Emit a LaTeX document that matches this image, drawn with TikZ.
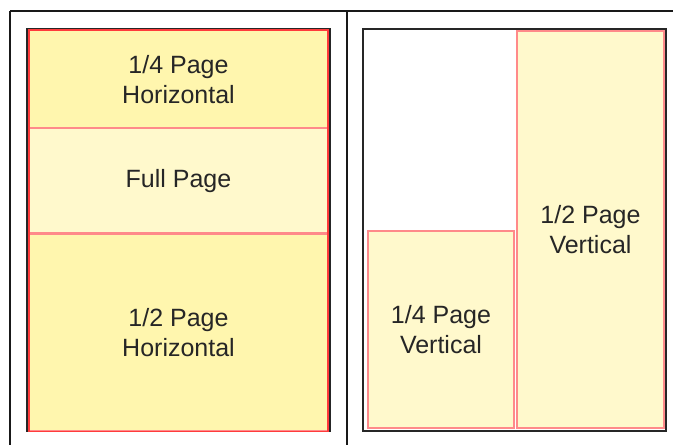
\documentclass[tikz,border=0pt]{standalone}
\usepackage{fontspec}
\setmainfont{Liberation Sans}
\usetikzlibrary{positioning, calc}
\definecolor{adyellow}{HTML}{FFF6AE}
\definecolor{adpale}{HTML}{FFF9CC}
\definecolor{adred}{HTML}{FF3B3B}
\definecolor{adpink}{HTML}{FF8A8A}
\tikzstyle{pagebox} = [
    rectangle,
    draw=black!85,
    line width=2pt,
    fill=white,
    inner sep=0pt
]
\tikzstyle{adbox} = [
    rectangle,
    draw=adpink,
    line width=1.2pt,
    fill=adyellow,
    inner sep=0pt,
    align=center,
    font=\fontsize{25}{30}\selectfont,
    text=black!85
]
\tikzstyle{vertbox} = [
    adbox,
    line width=2pt,
    fill=adpale
]
\tikzstyle{rule} = [draw=black!90, line width=2pt]

\begin{document}
\begin{tikzpicture}[x=1pt, y=-1pt]
    \useasboundingbox (0,0) rectangle (673,445);

    % Table rules
    \coordinate (top_left) at (10,11);
    \coordinate (top_right) at (673,11);
    \coordinate (bottom_left) at (10,445);
    \coordinate (mid_top) at (347,11);
    \coordinate (mid_bottom) at (347,445);
    \draw [rule] (top_left) -- (top_right);
    \draw [rule] (top_left) -- (bottom_left);
    \draw [rule] (mid_top) -- (mid_bottom);

    % Left page
    \node (left_page) [pagebox, minimum width=303pt, minimum height=402pt] at (178.5,230) {};
    \node (quarter_h) [adbox, minimum width=298pt, minimum height=97pt, anchor=north] at ($(left_page.north)+(0,2)$) {1/4 Page\\Horizontal};
    \node (full_page) [adbox, fill=adpale, minimum width=298pt, minimum height=104pt, below=0pt of quarter_h] {Full Page};
    \node (half_h) [adbox, minimum width=298pt, minimum height=197pt, below=0pt of full_page] {1/2 Page\\Horizontal};
    \draw [adred, line width=1.5pt] (quarter_h.north west) rectangle (half_h.south east);

    % Right page
    \node (right_page) [pagebox, minimum width=303pt, minimum height=402pt] at (514.5,230) {};
    \node (half_v) [vertbox, minimum width=147pt, minimum height=397pt, anchor=north east] at ($(right_page.north east)+(-2,2)$) {1/2 Page\\Vertical};
    \node (quarter_v) [vertbox, minimum width=146pt, minimum height=197pt, anchor=south east] at ($(half_v.south west)+(-1,0)$) {1/4 Page\\Vertical};
\end{tikzpicture}
\end{document}
